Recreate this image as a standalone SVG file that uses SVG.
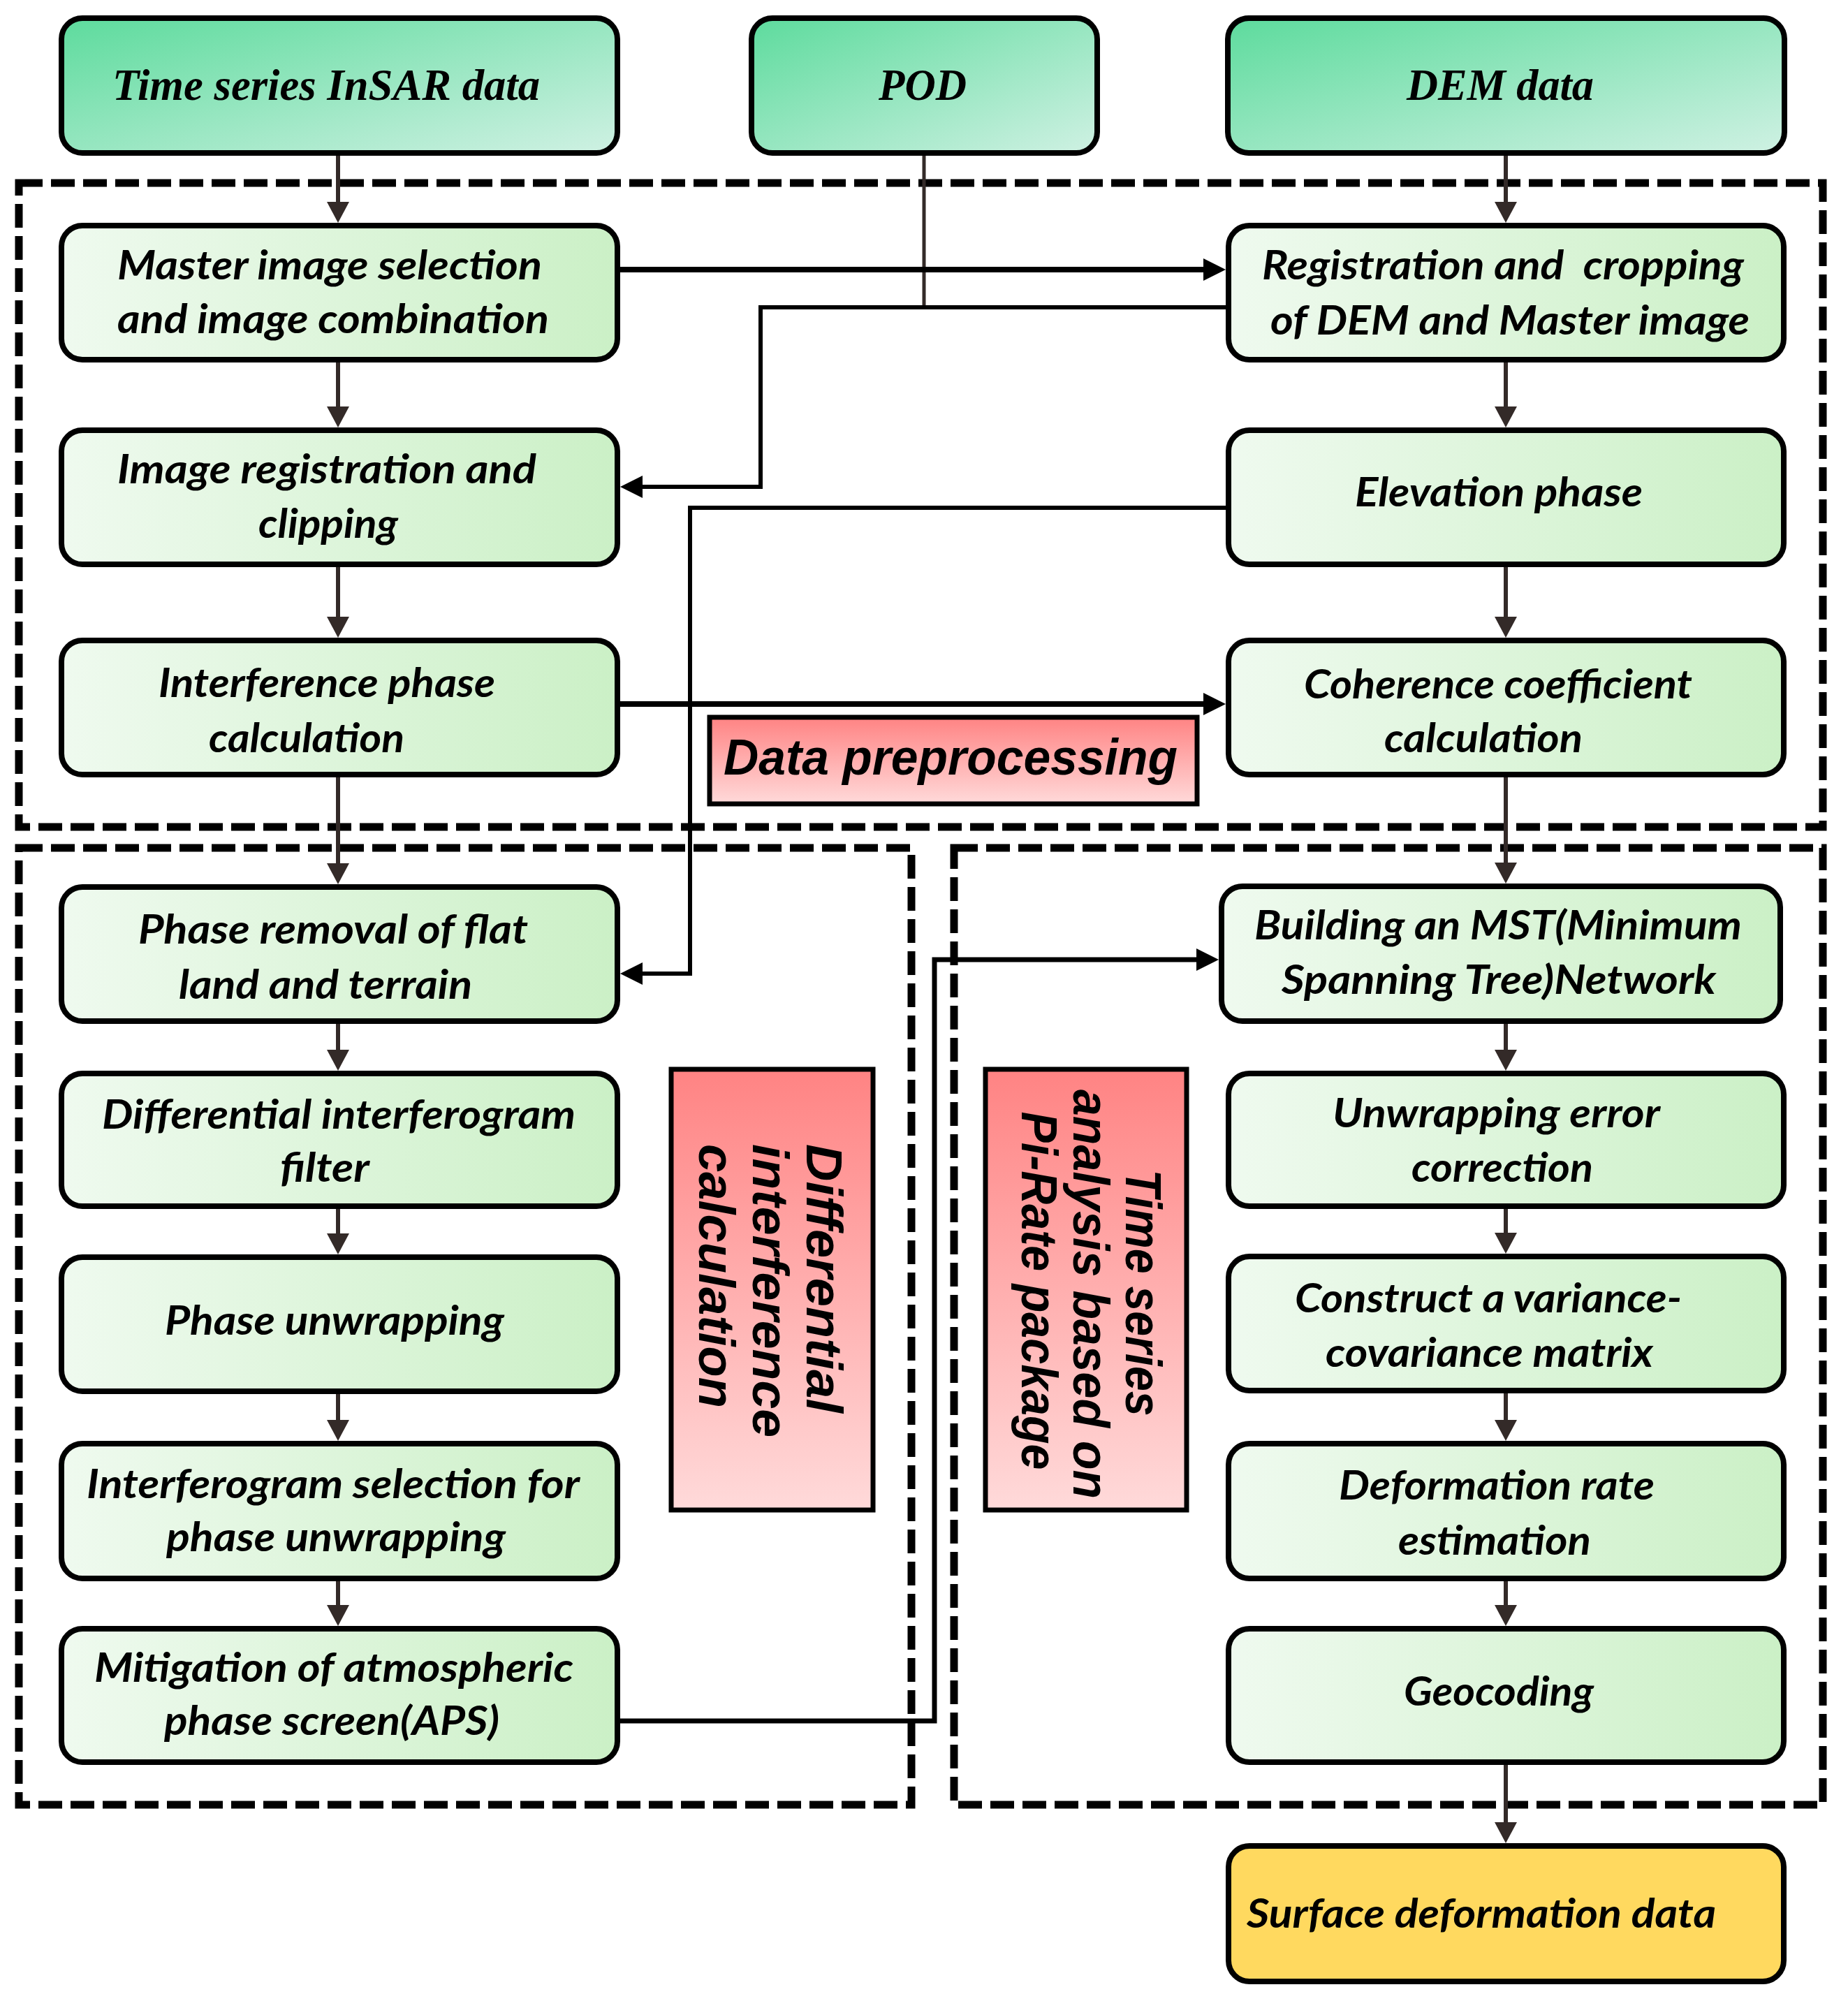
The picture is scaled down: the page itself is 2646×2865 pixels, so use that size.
<svg xmlns="http://www.w3.org/2000/svg" width="2646" height="2865" viewBox="0 0 2646 2865">
<defs>
<linearGradient id="gTop" x1="0" y1="0" x2="1" y2="1">
<stop offset="0" stop-color="#5ddb9d"/><stop offset="1" stop-color="#cff1e3"/>
</linearGradient>
<linearGradient id="gProc" x1="0" y1="0" x2="1" y2="0">
<stop offset="0" stop-color="#effaef"/><stop offset="1" stop-color="#cbf0c6"/>
</linearGradient>
<linearGradient id="gLab" x1="0" y1="0" x2="0" y2="1">
<stop offset="0" stop-color="#ff8383"/><stop offset="1" stop-color="#ffdada"/>
</linearGradient>
<marker id="ahB" viewBox="0 0 30 32" refX="22" refY="16" markerWidth="30" markerHeight="32" markerUnits="userSpaceOnUse" orient="auto"><path d="M0,0 L30,16 L0,32 z" fill="#332a28"/></marker>
<marker id="ahK" viewBox="0 0 32 32" refX="24" refY="16" markerWidth="32" markerHeight="32" markerUnits="userSpaceOnUse" orient="auto"><path d="M0,0 L32,16 L0,32 z" fill="#000"/></marker>
<style>
.top{fill:url(#gTop);stroke:#000;stroke-width:8}
.proc{fill:url(#gProc);stroke:#000;stroke-width:8}
.out{fill:#ffd95f;stroke:#000;stroke-width:8}
.lab{fill:url(#gLab);stroke:#000;stroke-width:7}
.reg{fill:none;stroke:#000;stroke-width:11;stroke-dasharray:34 12}
.vb{fill:none;stroke:#332a28;stroke-width:6;marker-end:url(#ahB)}
.hk{fill:none;stroke:#000;marker-end:url(#ahK)}
.tt{font-family:"Liberation Serif","Times New Roman",serif;font-weight:bold;font-style:italic;font-size:63px;fill:#000}
.pt{font-family:Lato,"Open Sans","Liberation Sans",sans-serif;font-weight:bold;font-style:italic;font-size:57px;fill:#000}
.lt{font-family:"Liberation Sans",Arial,sans-serif;font-weight:bold;font-style:italic;font-size:72px;fill:#000}
</style>
</defs>
<rect width="2646" height="2865" fill="#fff"/>

<g id="regions">
<rect class="reg" x="27" y="262" width="2583" height="922"/>
<rect class="reg" x="27" y="1214" width="1278" height="1370"/>
<rect class="reg" x="1366" y="1214" width="1244" height="1370"/>
</g>

<g id="connectors">
<path class="vb" d="M484 219 V311"/>
<path class="vb" d="M484 515 V604"/>
<path class="vb" d="M484 808 V905"/>
<path class="vb" d="M484 1109 V1258"/>
<path class="vb" d="M484 1462 V1525"/>
<path class="vb" d="M484 1727 V1788"/>
<path class="vb" d="M484 1992 V2055"/>
<path class="vb" d="M484 2260 V2320"/>
<path class="vb" d="M2156 219 V311"/>
<path class="vb" d="M2156 515 V604"/>
<path class="vb" d="M2156 808 V905"/>
<path class="vb" d="M2156 1109 V1257"/>
<path class="vb" d="M2156 1463 V1525"/>
<path class="vb" d="M2156 1727 V1787"/>
<path class="vb" d="M2156 1991 V2055"/>
<path class="vb" d="M2156 2260 V2320"/>
<path class="vb" d="M2156 2523 V2631"/>
<path d="M1323 219 V440" fill="none" stroke="#332a28" stroke-width="5"/>
<path class="hk" stroke-width="8" d="M884 386 H1747"/>
<path class="hk" stroke-width="6" d="M1759 440 H1089 V697 H896"/>
<path class="hk" stroke-width="6" d="M1759 727 H988 V1394 H896"/>
<path class="hk" stroke-width="8" d="M884 1008 H1747"/>
<path class="hk" stroke-width="7" d="M884 2464 H1338 V1374 H1737"/>
</g>

<g id="n-insar"><rect class="top" x="88" y="26" width="796" height="193" rx="30"/>
<text class="tt" x="161" y="143" textLength="612" lengthAdjust="spacingAndGlyphs">Time series InSAR data</text></g>
<g id="n-pod"><rect class="top" x="1076" y="26" width="495" height="193" rx="30"/>
<text class="tt" x="1258" y="143" textLength="126" lengthAdjust="spacingAndGlyphs">POD</text></g>
<g id="n-dem"><rect class="top" x="1758" y="26" width="797" height="193" rx="30"/>
<text class="tt" x="2014" y="143" textLength="268" lengthAdjust="spacingAndGlyphs">DEM data</text></g>

<g id="n-master"><rect class="proc" x="88" y="323" width="796" height="192" rx="30"/>
<text class="pt" x="168" y="400" textLength="608" lengthAdjust="spacingAndGlyphs">Master image selection</text>
<text class="pt" x="168" y="477" textLength="618" lengthAdjust="spacingAndGlyphs">and image combination</text></g>
<g id="n-imgreg"><rect class="proc" x="88" y="616" width="796" height="192" rx="30"/>
<text class="pt" x="168" y="692" textLength="600" lengthAdjust="spacingAndGlyphs">Image registration and</text>
<text class="pt" x="370" y="770" textLength="200" lengthAdjust="spacingAndGlyphs">clipping</text></g>
<g id="n-interf"><rect class="proc" x="88" y="917" width="796" height="192" rx="30"/>
<text class="pt" x="227" y="998" textLength="482" lengthAdjust="spacingAndGlyphs">Interference phase</text>
<text class="pt" x="299" y="1077" textLength="280" lengthAdjust="spacingAndGlyphs">calculation</text></g>
<g id="n-phrem"><rect class="proc" x="88" y="1270" width="796" height="192" rx="30"/>
<text class="pt" x="198" y="1351" textLength="558" lengthAdjust="spacingAndGlyphs">Phase removal of flat</text>
<text class="pt" x="256" y="1430" textLength="420" lengthAdjust="spacingAndGlyphs">land and terrain</text></g>
<g id="n-difffilt"><rect class="proc" x="88" y="1537" width="796" height="190" rx="30"/>
<text class="pt" x="146" y="1616" textLength="678" lengthAdjust="spacingAndGlyphs">Differential interferogram</text>
<text class="pt" x="401" y="1692" textLength="128" lengthAdjust="spacingAndGlyphs">filter</text></g>
<g id="n-unwrap"><rect class="proc" x="88" y="1800" width="796" height="192" rx="30"/>
<text class="pt" x="236" y="1911" textLength="486" lengthAdjust="spacingAndGlyphs">Phase unwrapping</text></g>
<g id="n-ifgsel"><rect class="proc" x="88" y="2067" width="796" height="193" rx="30"/>
<text class="pt" x="124" y="2145" textLength="706" lengthAdjust="spacingAndGlyphs">Interferogram selection for</text>
<text class="pt" x="238" y="2221" textLength="486" lengthAdjust="spacingAndGlyphs">phase unwrapping</text></g>
<g id="n-aps"><rect class="proc" x="88" y="2332" width="796" height="191" rx="30"/>
<text class="pt" x="135" y="2408" textLength="686" lengthAdjust="spacingAndGlyphs">Mitigation of atmospheric</text>
<text class="pt" x="235" y="2484" textLength="480" lengthAdjust="spacingAndGlyphs">phase screen(APS)</text></g>

<g id="n-regcrop"><rect class="proc" x="1759" y="323" width="795" height="192" rx="30"/>
<text class="pt" x="1807" y="400" textLength="690" lengthAdjust="spacingAndGlyphs" style="white-space:pre">Registration and  cropping</text>
<text class="pt" x="1819" y="479" textLength="686" lengthAdjust="spacingAndGlyphs">of DEM and Master image</text></g>
<g id="n-elev"><rect class="proc" x="1759" y="616" width="795" height="192" rx="30"/>
<text class="pt" x="1940" y="725" textLength="412" lengthAdjust="spacingAndGlyphs">Elevation phase</text></g>
<g id="n-coh"><rect class="proc" x="1759" y="917" width="795" height="192" rx="30"/>
<text class="pt" x="1867" y="1000" textLength="556" lengthAdjust="spacingAndGlyphs">Coherence coefficient</text>
<text class="pt" x="1982" y="1077" textLength="284" lengthAdjust="spacingAndGlyphs">calculation</text></g>
<g id="n-mst"><rect class="proc" x="1749" y="1269" width="800" height="193" rx="30"/>
<text class="pt" x="1796" y="1345" textLength="698" lengthAdjust="spacingAndGlyphs">Building an MST(Minimum</text>
<text class="pt" x="1835" y="1423" textLength="622" lengthAdjust="spacingAndGlyphs">Spanning Tree)Network</text></g>
<g id="n-unwerr"><rect class="proc" x="1759" y="1537" width="795" height="190" rx="30"/>
<text class="pt" x="1908" y="1614" textLength="469" lengthAdjust="spacingAndGlyphs">Unwrapping error</text>
<text class="pt" x="2021" y="1692" textLength="260" lengthAdjust="spacingAndGlyphs">correction</text></g>
<g id="n-vcm"><rect class="proc" x="1759" y="1799" width="795" height="192" rx="30"/>
<text class="pt" x="1854" y="1879" textLength="554" lengthAdjust="spacingAndGlyphs">Construct a variance-</text>
<text class="pt" x="1898" y="1957" textLength="469" lengthAdjust="spacingAndGlyphs">covariance matrix</text></g>
<g id="n-rate"><rect class="proc" x="1759" y="2067" width="795" height="193" rx="30"/>
<text class="pt" x="1917" y="2147" textLength="452" lengthAdjust="spacingAndGlyphs">Deformation rate</text>
<text class="pt" x="2002" y="2226" textLength="276" lengthAdjust="spacingAndGlyphs">estimation</text></g>
<g id="n-geo"><rect class="proc" x="1759" y="2332" width="795" height="191" rx="30"/>
<text class="pt" x="2010" y="2442" textLength="272" lengthAdjust="spacingAndGlyphs">Geocoding</text></g>
<g id="n-surface"><rect class="out" x="1759" y="2643" width="795" height="194" rx="30"/>
<text class="pt" x="1785" y="2760" textLength="672" lengthAdjust="spacingAndGlyphs">Surface deformation data</text></g>

<g id="l-pre"><rect class="lab" x="1016" y="1027" width="698" height="124"/>
<text class="lt" x="1036" y="1109" font-size="74" textLength="650" lengthAdjust="spacingAndGlyphs">Data preprocessing</text></g>
<g id="l-diff"><rect class="lab" x="961" y="1531" width="289" height="631"/>
<text class="lt" transform="translate(1155 1638) rotate(90)" textLength="385" lengthAdjust="spacingAndGlyphs">Differential</text>
<text class="lt" transform="translate(1078 1638) rotate(90)" textLength="420" lengthAdjust="spacingAndGlyphs">interference</text>
<text class="lt" transform="translate(1001 1638) rotate(90)" textLength="378" lengthAdjust="spacingAndGlyphs">calculation</text></g>
<g id="l-ts"><rect class="lab" x="1411" y="1531" width="288" height="631"/>
<text class="lt" text-anchor="middle" transform="translate(1612 1851) rotate(90)" textLength="353" lengthAdjust="spacingAndGlyphs">Time series</text>
<text class="lt" text-anchor="middle" transform="translate(1537 1853) rotate(90)" textLength="586" lengthAdjust="spacingAndGlyphs">analysis based on</text>
<text class="lt" text-anchor="middle" transform="translate(1463 1848) rotate(90)" textLength="513" lengthAdjust="spacingAndGlyphs">Pi-Rate package</text></g>
</svg>
